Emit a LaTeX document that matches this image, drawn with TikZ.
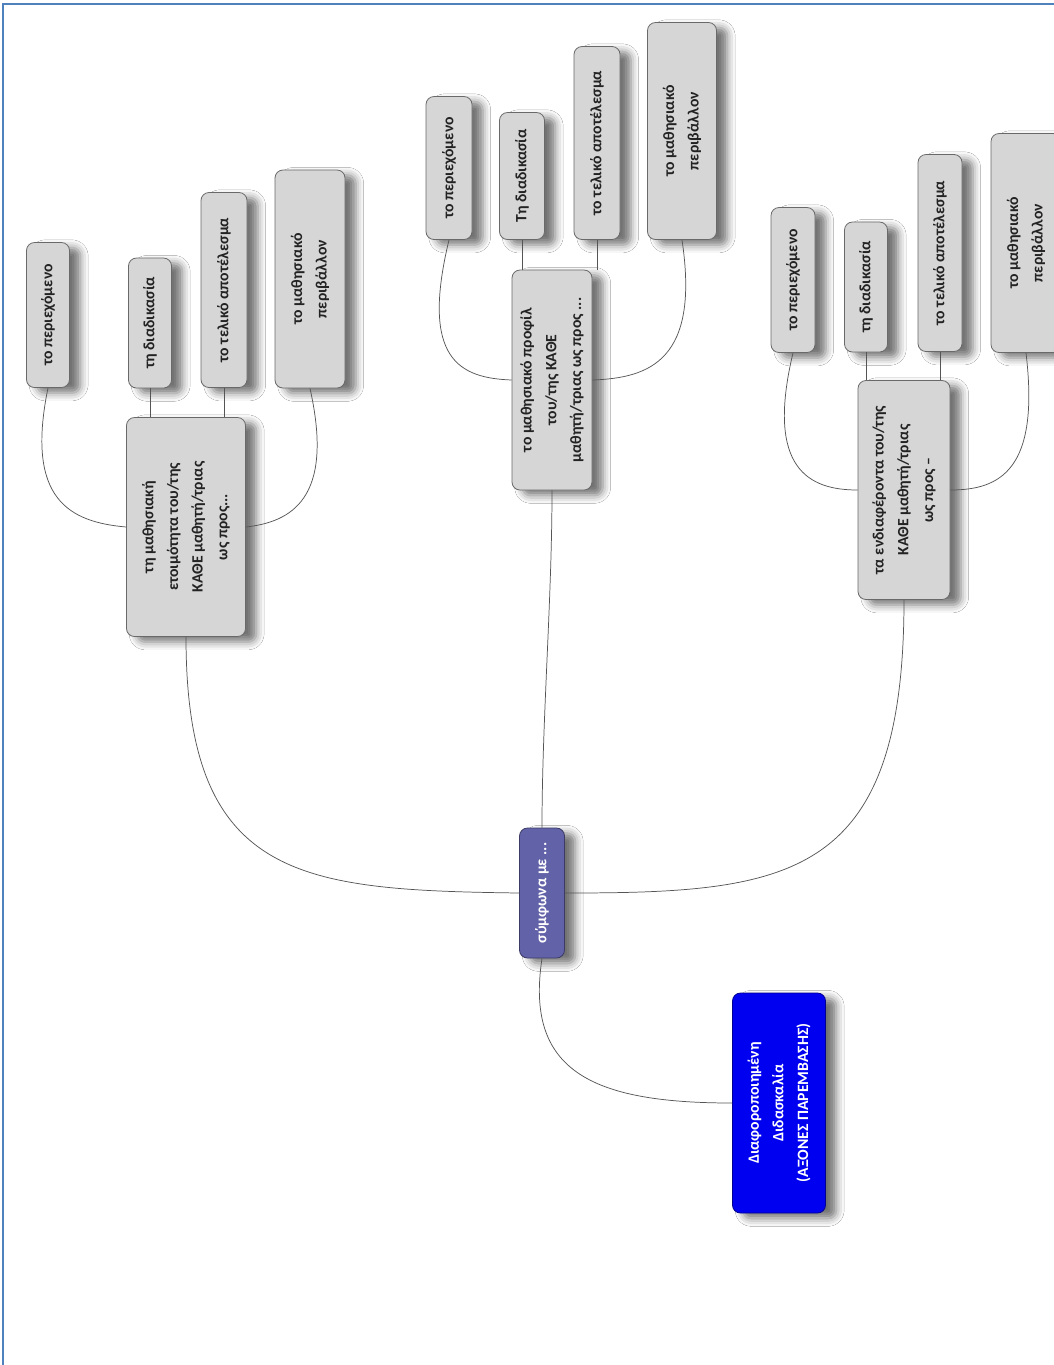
\documentclass[tikz,border=0pt]{standalone}
\usepackage{fontspec}
\setmainfont{Carlito}
\usetikzlibrary{shadows.blur}
\definecolor{frameblue}{RGB}{79,129,189}
\definecolor{boxfill}{RGB}{214,214,214}
\definecolor{boxdraw}{RGB}{105,105,105}
\definecolor{txtgray}{RGB}{35,35,35}
\definecolor{centrepurple}{RGB}{98,98,168}
\definecolor{rootblue}{RGB}{0,0,240}
\definecolor{linkgray}{RGB}{85,85,85}
\tikzset{
  box/.style={rotate=90, rounded corners=6pt, draw=boxdraw, line width=0.6pt,
    fill=boxfill, text=txtgray, font=\bfseries\fontsize{11.8}{18.5}\selectfont,
    align=center, inner sep=2pt,
    blur shadow={shadow xshift=8pt, shadow yshift=-4pt, shadow blur radius=6pt, shadow opacity=55}},
  link/.style={draw=linkgray, line width=0.55pt},
}
\begin{document}
\begin{tikzpicture}[x=0.75pt,y=-0.75pt]
\path[use as bounding box] (0,0) rectangle (1054,1365);
\clip (0,0) rectangle (1054,1365);
\fill[white] (0,0) rectangle (1054,1365);
\draw[frameblue, line width=1.5pt] (3,1365) -- (3,4) -- (1054,4);

% root and centre
\node[box, fill=rootblue, draw=rootblue!60!black, text=white, minimum width=165pt, minimum height=69.75pt] (root) at (779,1103) {Διαφοροποιημένη\\Διδασκαλία\\(ΑΞΟΝΕΣ ΠΑΡΕΜΒΑΣΗΣ)};
\node[box, fill=centrepurple, draw=centrepurple!60!black, text=white, minimum width=97.5pt, minimum height=33.75pt] (c) at (542,893) {σύμφωνα με ...};

% branch nodes
\node[box, minimum width=164.25pt, minimum height=89.25pt] (b1) at (186,527) {τη μαθησιακή\\ετοιμότητα του/της\\ΚΑΘΕ μαθητή/τριας\\ως προς...};
\node[box, minimum width=165pt, minimum height=60pt] (b2) at (552,380) {το μαθησιακό προφίλ\\του/της ΚΑΘΕ\\μαθητή/τριας ως προς ...};
\node[box, minimum width=164.25pt, minimum height=69pt] (b3) at (904,490) {τα ενδιαφέροντα του/της\\ΚΑΘΕ μαθητή/τριας\\ως προς –};

% children of b1
\node[box, minimum width=108.75pt, minimum height=32.25pt] (a1) at (48,315) {το περιεχόμενο};
\node[box, minimum width=97.5pt, minimum height=32.25pt] (a2) at (150,323) {τη διαδικασία};
\node[box, minimum width=146.25pt, minimum height=34.5pt] (a3) at (224,290) {το τελικό αποτέλεσμα};
\node[box, minimum width=163.5pt, minimum height=52.5pt] (a4) at (310,279) {το μαθησιακό\\περιβάλλον};

% children of b2
\node[box, minimum width=107.25pt, minimum height=34.5pt] (p1) at (449,168) {το περιεχόμενο};
\node[box, minimum width=95.25pt, minimum height=33.75pt] (p2) at (522,176) {Τη διαδικασία};
\node[box, minimum width=144.75pt, minimum height=34.5pt] (p3) at (597,143) {το τελικό αποτέλεσμα};
\node[box, minimum width=162.75pt, minimum height=51.75pt] (p4) at (682,131) {το μαθησιακό\\περιβάλλον};

% children of b3
\node[box, minimum width=108.75pt, minimum height=33pt] (e1) at (793,280) {το περιεχόμενο};
\node[box, minimum width=97.5pt, minimum height=32.25pt] (e2) at (866,287) {τη διαδικασία};
\node[box, minimum width=147.75pt, minimum height=33pt] (e3) at (940,253) {το τελικό αποτέλεσμα};
\node[box, minimum width=164.25pt, minimum height=52.5pt] (e4) at (1026,243) {το μαθησιακό\\περιβάλλον};

% connectors: root and centre
\draw[link] (root.north) .. controls (590,1103) and (525,1070) .. (c.west);
\draw[link] (b1.west) .. controls (186,880) and (300,890) .. (c.north);
\draw[link] (b2.west) .. controls (552,600) and (542,720) .. (c.east);
\draw[link] (b3.west) .. controls (904,880) and (790,893) .. (c.south);

% connectors b1
\draw[link] (a1.west) .. controls (25,500) and (70,522) .. (b1.north);
\draw[link] (a2.west) -- (a2.west |- b1.east);
\draw[link] (a3.west) -- (a3.west |- b1.east);
\draw[link] (a4.west) .. controls (335,500) and (290,522) .. (b1.south);

% connectors b2
\draw[link] (p1.west) .. controls (420,360) and (460,378) .. (b2.north);
\draw[link] (p2.west) -- (p2.west |- b2.east);
\draw[link] (p3.west) -- (p3.west |- b2.east);
\draw[link] (p4.west) .. controls (700,360) and (650,378) .. (b2.south);

% connectors b3
\draw[link] (e1.west) .. controls (765,470) and (810,490) .. (b3.north);
\draw[link] (e2.west) -- (e2.west |- b3.east);
\draw[link] (e3.west) -- (e3.west |- b3.east);
\draw[link] (e4.west) .. controls (1040,470) and (1000,490) .. (b3.south);
\end{tikzpicture}
\end{document}
